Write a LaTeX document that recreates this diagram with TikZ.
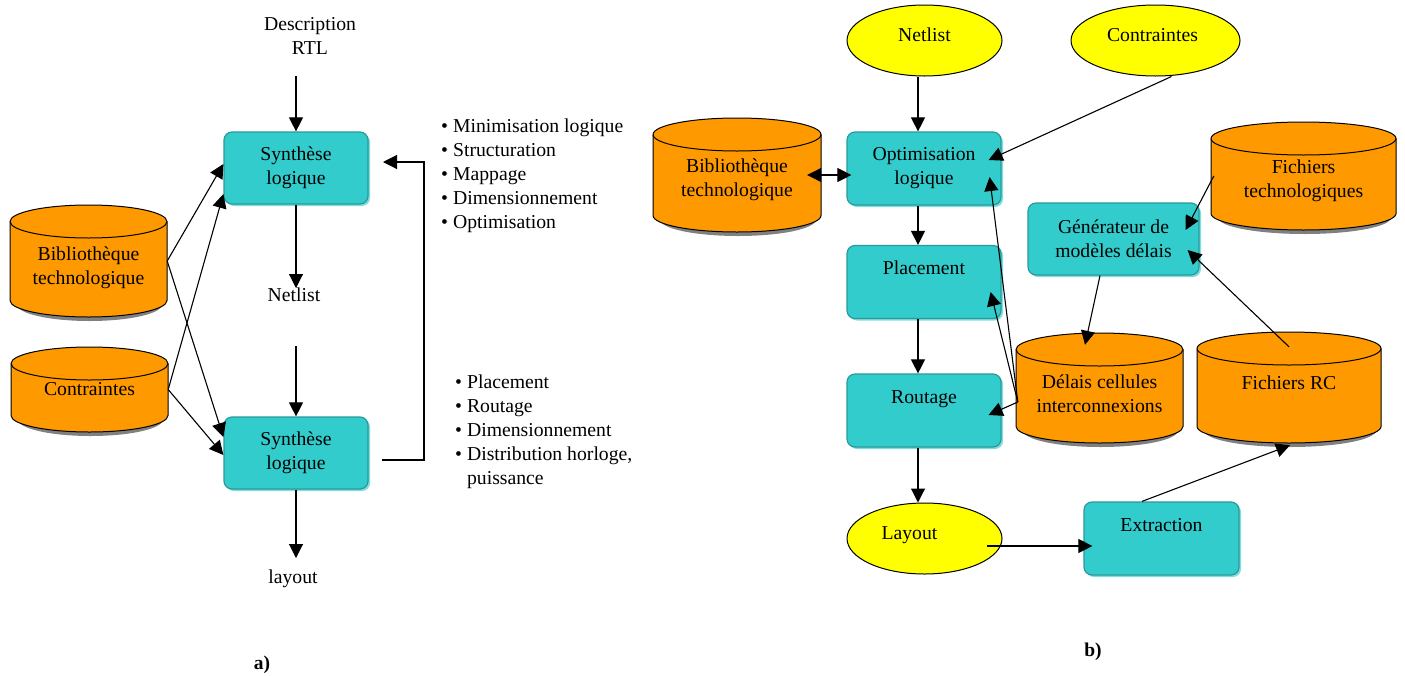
\documentclass[tikz,border=0pt]{standalone}
\usepackage{fontspec}
\setmainfont{Liberation Serif}
\usetikzlibrary{arrows.meta,shapes.geometric,shadows,backgrounds}
\definecolor{tealA}{HTML}{33CCCC}
\definecolor{tealD}{HTML}{2A9999}
\definecolor{tealL}{HTML}{80DDDD}
\definecolor{orng}{HTML}{FF9900}
\definecolor{yel}{HTML}{FFFF00}
\definecolor{shgray}{HTML}{808080}
\tikzset{
  box/.style={rectangle, rounded corners=8pt, fill=tealA, draw=tealD, line width=1.2pt,
    minimum width=154pt, minimum height=73pt, align=center, inner sep=0pt,
    drop shadow={shadow xshift=2pt, shadow yshift=-2pt, fill=tealL, opacity=1}},
  oval/.style={ellipse, fill=yel, draw=black, line width=1pt, minimum width=155pt,
    minimum height=71pt, inner sep=0pt},
  plain/.style={align=center, inner sep=0pt},
  arr/.style={-{Triangle[length=14pt,width=14pt]}, line width=1.1pt},
  dblarr/.style={{Triangle[length=14pt,width=14pt]}-{Triangle[length=14pt,width=14pt]}, line width=1.1pt},
  cylfill/.style={fill=orng, draw=black, line width=1pt},
  cylnode/.style={rectangle, inner sep=0pt},
}
% name, x1, ytop, x2, ybottom, text, text shift down
\newcommand\dbcyl[7]{%
  \pgfmathsetmacro\cA{(#2+#4)/2}%
  \pgfmathsetmacro\rA{(#4-#2)/2}%
  \pgfmathsetmacro\rS{(#4-#2)/2-6}%
  \pgfmathsetmacro\wA{#4-#2}%
  \pgfmathsetmacro\hA{#5-#3}%
  \pgfmathsetmacro\yT{-(#3)-16.5}%
  \pgfmathsetmacro\yB{-(#5)+16.5}%
  \pgfmathsetmacro\yS{-(#5)+12.5}%
  \pgfmathsetmacro\yM{-(#3+#5)/2}%
  \pgfmathsetmacro\yX{-(#3+#5)/2-(#7)}%
  \begin{scope}[on background layer]
    \fill[shgray] (\cA+1,\yS) ellipse[x radius=\rS, y radius=16.5];
    \filldraw[cylfill] (#2,\yT) -- (#2,\yB)
      arc[start angle=180,end angle=360,x radius=\rA,y radius=16.5]
      -- (#4,\yT) arc[start angle=0,end angle=180,x radius=\rA,y radius=16.5] -- cycle;
    \draw[line width=1pt] (#2,\yT) arc[start angle=180,end angle=360,x radius=\rA,y radius=16.5];
  \end{scope}
  \node[cylnode, minimum width=\wA pt, minimum height=\hA pt] (#1) at (\cA,\yM) {};
  \node[plain] (#1-t) at (\cA,\yX) {#6};
}
\begin{document}
\begin{tikzpicture}[x=1pt,y=1pt,font=\fontsize{19.7}{24}\selectfont]
\useasboundingbox (0,0) rectangle (1405,-675);

% ---------------- a) ----------------
\node[plain] (rtl) at (310,-36) {Description\\RTL};
\node[box, minimum width=144pt, minimum height=72pt] (syn1) at (296,-168) {Synthèse\\logique};
\node[plain] (netA) at (294,-295) {Netlist};
\node[box, minimum width=144pt, minimum height=72pt] (syn2) at (296,-453) {Synthèse\\logique};
\node[plain] (layA) at (293,-579) {layout};

\dbcyl{bibA}{10}{205}{167}{317}{Bibliothèque\\technologique}{7}
\dbcyl{conA}{11}{347}{168}{432}{Contraintes}{0}

\coordinate (rtlOut) at (296,-76);
\coordinate (netIn) at (296,-288);
\coordinate (netOut) at (296,-346);
\coordinate (layIn) at (296,-558);
\coordinate (fbA) at (382,-460);
\coordinate (fbC) at (383,-162);

\draw[arr] (rtlOut) -- (syn1.north);
\draw[arr] (syn1.south) -- (netIn);
\draw[arr] (netOut) -- (syn2.north);
\draw[arr] (syn2.south) -- (layIn);
\draw[arr] (bibA.east) -- ([yshift=4pt]syn1.west);
\draw[arr] (conA.east) -- ([yshift=-26pt]syn1.west);
\draw[arr] (bibA.east) -- ([yshift=16pt]syn2.west);
\draw[arr] (conA.east) -- ([yshift=-2pt]syn2.west);
\draw[arr] (fbA) -- ++(42,0) |- (fbC);

\node[plain, anchor=west] (list1) at (441,-176) {%
  \begin{tabular}{@{}l@{\hspace{5pt}}l@{}}
  \textbullet & Minimisation logique\\
  \textbullet & Structuration\\
  \textbullet & Mappage\\
  \textbullet & Dimensionnement\\
  \textbullet & Optimisation
  \end{tabular}};
\node[plain, anchor=west] (list2) at (455,-432) {%
  \begin{tabular}{@{}l@{\hspace{5pt}}l@{}}
  \textbullet & Placement\\
  \textbullet & Routage\\
  \textbullet & Dimensionnement\\
  \textbullet & Distribution horloge,\\
   & puissance
  \end{tabular}};

\node[plain, font=\fontsize{19.5}{24}\selectfont\bfseries] (labA) at (262,-665) {a)};

% ---------------- b) ----------------
\node[oval] (netE) at (924.5,-40.5) {\raisebox{11pt}{Netlist}};
\node[oval, minimum width=169pt] (conE) at (1155.5,-40.5) {\hspace*{-6pt}\raisebox{11pt}{Contraintes}};
\node[box] (opt) at (924,-168.5) {Optimisation\\logique};
\node[box] (plc) at (924,-282) {\strut Placement\\\strut};
\node[box] (rtg) at (924,-410.5) {\strut Routage\\\strut};
\node[oval] (layE) at (924.5,-538.5) {\hspace*{-30pt}\raisebox{11pt}{Layout}};
\node[box, minimum width=155pt] (ext) at (1161.5,-538.5) {\strut Extraction\\\strut};
\node[box, minimum width=171pt, minimum height=72pt] (gen) at (1113.5,-239) {Générateur de\\modèles délais};

\dbcyl{bibB}{653}{118}{821}{232}{Bibliothèque\\technologique}{5}
\dbcyl{ftech}{1211}{122}{1396}{230}{Fichiers\\technologiques}{5}
\dbcyl{delais}{1016}{333}{1183}{443}{Délais cellules\\interconnexions}{6}
\dbcyl{rc}{1197}{332}{1381}{443}{Fichiers RC}{-4.5}

\draw[arr] ([xshift=-6.5pt]netE.south) -- ([xshift=-6pt]opt.north);
\draw[arr] ([xshift=16pt]conE.south) -- ([xshift=-13pt,yshift=8.5pt]opt.east);
\draw[dblarr] ([xshift=-14pt]bibB.east) -- ([xshift=5pt]bibB.east -| opt.west);
\draw[arr] ([xshift=-6pt]opt.south) -- ([xshift=-6pt]plc.north);
\draw[arr] ([xshift=-6pt]plc.south) -- ([xshift=-6pt]rtg.north);
\draw[arr] ([xshift=-6pt]rtg.south) -- ([xshift=-6.5pt]layE.north);
\draw[arr] ([xshift=62.5pt,yshift=-7.5pt]layE.center) -- ([xshift=9pt,yshift=-7.5pt]ext.west);
\draw[arr] ([xshift=-19.5pt]ext.north) -- ([xshift=1pt,yshift=-2pt]rc.south);
\draw[arr] ([xshift=3pt]ftech.west) -- ([xshift=-14pt,yshift=9pt]gen.east);
\draw[arr] ([yshift=-15pt]rc.north) -- ([xshift=-12pt,yshift=-11pt]gen.east);
\draw[arr] ([xshift=-13.5pt]gen.south) -- ([xshift=-14.5pt,yshift=-12pt]delais.north);
\draw[arr] ([xshift=2pt,yshift=-14pt]delais.west) -- ([xshift=-12pt,yshift=-8.5pt]opt.east);
\draw[arr] ([xshift=2pt,yshift=-14pt]delais.west) -- ([xshift=-11pt,yshift=-10pt]plc.east);
\draw[arr] ([xshift=2pt,yshift=-14pt]delais.west) -- ([xshift=-13pt,yshift=-4.5pt]rtg.east);

\node[plain, font=\fontsize{19.5}{24}\selectfont\bfseries] (labB) at (1093,-652) {b)};
\end{tikzpicture}
\end{document}
